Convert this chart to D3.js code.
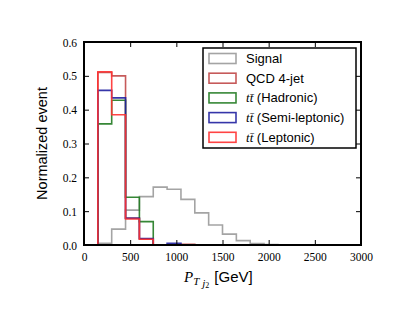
<!DOCTYPE html>
<html>
<head>
<meta charset="utf-8">
<script src="https://cdn.jsdelivr.net/npm/d3@7/dist/d3.min.js"></script>
<style>
  body { margin: 0; background: #fff; }
  svg { display: block; }
</style>
</head>
<body>
<div id="vis"></div>
<script>
// bin edges (GeV)
var binEdges = [0, 150, 300, 450, 600, 750, 900, 1050, 1200, 1350, 1500,
    1650, 1800, 1950, 2100, 2250, 2400, 2550, 2700, 2850, 3000];

// normalized counts per bin
var signal    = [0, 0.005, 0.047, 0.103, 0.143, 0.171, 0.165, 0.135, 0.095, 0.059, 0.032, 0.013, 0.004, 0.001, 0, 0, 0, 0, 0, 0];
var qcd       = [0, 0.510, 0.500, 0.080, 0.018, 0, 0, 0.002, 0, 0, 0, 0, 0, 0, 0, 0, 0, 0, 0, 0];
var hadronic  = [0, 0.358, 0.428, 0.141, 0.069, 0, 0, 0, 0, 0, 0, 0, 0, 0, 0, 0, 0, 0, 0, 0];
var semilep   = [0, 0.457, 0.435, 0.079, 0.019, 0, 0.005, 0, 0, 0, 0, 0, 0, 0, 0, 0, 0, 0, 0, 0];
var leptonic  = [0, 0.512, 0.385, 0.077, 0.017, 0, 0, 0, 0, 0, 0, 0, 0, 0, 0, 0, 0, 0, 0, 0];

var xTicks = [0, 500, 1000, 1500, 2000, 2500, 3000];
var yTicks = [0.0, 0.1, 0.2, 0.3, 0.4, 0.5, 0.6];

var series = [
    {name: 'Signal', values: signal, color: '#9a9a9a', tt: false},
    {name: 'QCD 4-jet', values: qcd, color: '#c04848', tt: false},
    {name: '(Hadronic)', values: hadronic, color: '#207a20', tt: true},
    {name: '(Semi-leptonic)', values: semilep, color: '#2020a0', tt: true},
    {name: '(Leptonic)', values: leptonic, color: '#ff3030', tt: true}
];

var width = 411, height = 327;
var margin = {top: 42, right: 50, bottom: 82, left: 84};
var w = width - margin.left - margin.right;
var h = height - margin.top - margin.bottom;

var svg = d3.select('#vis').append('svg')
    .attr('width', width)
    .attr('height', height);

var g = svg.append('g')
    .attr('transform', 'translate(' + margin.left + ',' + margin.top + ')');

var x = d3.scaleLinear().domain([0, 3000]).range([0, w]);
var y = d3.scaleLinear().domain([0, 0.6]).range([h, 0]);

// step outline like matplotlib histtype='step'
function stepPath(vals) {
    var pts = [[x(binEdges[0]), y(0)]];
    vals.forEach(function (v, i) {
        pts.push([x(binEdges[i]), y(v)]);
        pts.push([x(binEdges[i + 1]), y(v)]);
    });
    pts.push([x(binEdges[binEdges.length - 1]), y(0)]);
    return d3.line()(pts);
}

var plot = g.append('g');
plot.append('clipPath').attr('id', 'clip')
    .append('rect').attr('width', w).attr('height', h + 1);

plot.selectAll('.hist')
    .data(series)
    .enter().append('path')
    .attr('class', 'hist')
    .attr('clip-path', 'url(#clip)')
    .attr('d', function (d) { return stepPath(d.values); })
    .attr('fill', 'none')
    .attr('stroke', function (d) { return d.color; })
    .attr('stroke-opacity', 0.9)
    .attr('stroke-width', 1.6);

// axes with inward ticks on all sides
var tickFont = '"Liberation Serif", "DejaVu Serif", serif';
var sansFont = '"Liberation Sans", Arial, sans-serif';

var xAxis = g.append('g').attr('transform', 'translate(0,' + h + ')')
    .call(d3.axisBottom(x).tickValues(xTicks).tickSize(-5).tickPadding(8)
        .tickFormat(d3.format('d')));
var xTop = g.append('g')
    .call(d3.axisTop(x).tickValues(xTicks).tickSize(-5).tickFormat(''));
var yAxis = g.append('g')
    .call(d3.axisLeft(y).tickValues(yTicks).tickSize(-5).tickPadding(7)
        .tickFormat(d3.format('.1f')));
var yRight = g.append('g').attr('transform', 'translate(' + w + ',0)')
    .call(d3.axisRight(y).tickValues(yTicks).tickSize(-5).tickFormat(''));

[xAxis, xTop, yAxis, yRight].forEach(function (a) {
    a.select('.domain').remove();
    a.selectAll('.tick line').attr('stroke', '#000').attr('stroke-width', 1);
    a.selectAll('text').attr('font-family', tickFont).attr('font-size', 11.5).attr('fill', '#000');
});
yAxis.selectAll('text').attr('dy', '0.35em');

// frame
g.append('rect')
    .attr('width', w).attr('height', h)
    .attr('fill', 'none')
    .attr('stroke', '#000')
    .attr('stroke-width', 2);

// y label
svg.append('text')
    .attr('transform', 'translate(47,' + (margin.top + h / 2) + ') rotate(-90)')
    .attr('text-anchor', 'middle')
    .attr('font-family', sansFont)
    .attr('font-size', 14.5)
    .text('Normalized event');

// x label
var xl = svg.append('text')
    .attr('x', 184)
    .attr('y', 282)
    .attr('font-size', 15);
xl.append('tspan').attr('font-family', tickFont).attr('font-style', 'italic').text('P');
xl.append('tspan').attr('font-family', tickFont).attr('font-style', 'italic')
    .attr('font-size', 11).attr('dy', 3).text('T');
xl.append('tspan').attr('font-family', tickFont).attr('font-style', 'italic')
    .attr('font-size', 11).attr('dx', 3).attr('dy', 2).text('j');
xl.append('tspan').attr('font-family', tickFont)
    .attr('font-size', 8).attr('dy', 1).text('2');
xl.append('tspan').attr('font-family', sansFont)
    .attr('dx', 5).attr('dy', -6).text('[GeV]');

// legend
var lx = 203, ly = 48;
var legend = svg.append('g').attr('transform', 'translate(' + lx + ',' + ly + ')');
legend.append('rect')
    .attr('width', 153).attr('height', 100)
    .attr('fill', '#fff')
    .attr('stroke', '#000')
    .attr('stroke-width', 1.5);

var rows = legend.selectAll('.row')
    .data(series)
    .enter().append('g')
    .attr('transform', function (d, i) { return 'translate(6,' + (10.5 + i * 19.7) + ')'; });

rows.append('rect')
    .attr('x', 0).attr('y', -5)
    .attr('width', 27).attr('height', 10)
    .attr('fill', 'none')
    .attr('stroke', function (d) { return d.color; })
    .attr('stroke-opacity', 0.9)
    .attr('stroke-width', 1.6);

var labels = rows.append('text')
    .attr('x', 37).attr('y', 4.5)
    .attr('font-family', sansFont)
    .attr('font-size', 13);

labels.each(function (d) {
    var t = d3.select(this);
    if (d.tt) {
        t.append('tspan').attr('font-family', tickFont).attr('font-style', 'italic').text('t');
        t.append('tspan').attr('font-family', tickFont).attr('font-style', 'italic').text('t\u0304');
        t.append('tspan').text(' ' + d.name);
    } else {
        t.text(d.name);
    }
});
</script>
</body>
</html>
